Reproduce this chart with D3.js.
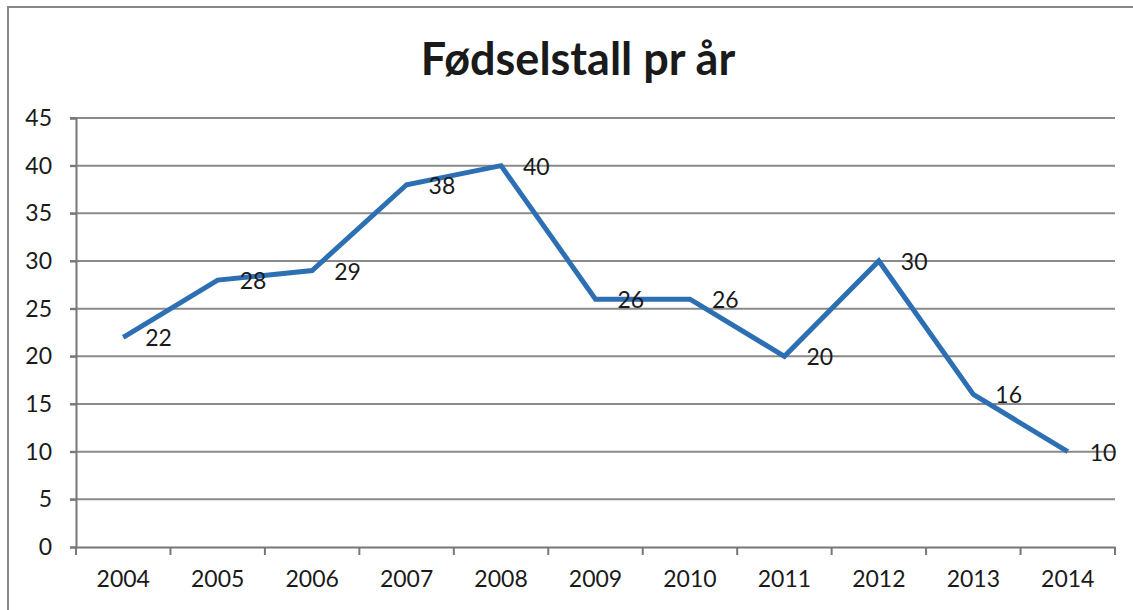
<!DOCTYPE html>
<html lang="no">
<head>
<meta charset="utf-8">
<title>Fødselstall pr år</title>
<script src="https://d3js.org/d3.v7.min.js"></script>
<style>
  body { margin: 0; background: #fff; }
  text { font-family: Lato, "Open Sans", sans-serif; fill: #1a1a1a; }
</style>
</head>
<body>
<div id="chart"></div>
<script>
// data
var years = ["2004", "2005", "2006", "2007", "2008", "2009", "2010", "2011", "2012", "2013", "2014"];
var births = [22, 28, 29, 38, 40, 26, 26, 20, 30, 16, 10];
var yTicks = [0, 5, 10, 15, 20, 25, 30, 35, 40, 45];

var W = 1133, H = 610;
var margin = {top: 118, right: 18, bottom: 63, left: 76};
var width = W - margin.left - margin.right,
    height = H - margin.top - margin.bottom;

var svg = d3.select("#chart").append("svg")
    .attr("width", W)
    .attr("height", H);

// chart frame (runs off the right and bottom edge like the scan)
svg.append("rect")
    .attr("x", 8).attr("y", 7)
    .attr("width", W + 20).attr("height", H + 20)
    .attr("fill", "none")
    .attr("stroke", "#888")
    .attr("stroke-width", 2);

// title
svg.append("text")
    .attr("x", 578)
    .attr("y", 75)
    .attr("text-anchor", "middle")
    .style("font-size", "45px")
    .style("font-weight", "bold")
    .text("Fødselstall pr år");

var g = svg.append("g")
    .attr("transform", "translate(" + margin.left + "," + margin.top + ")");

var x = d3.scaleBand()
    .domain(years)
    .range([0, width])
    .padding(0);

var y = d3.scaleLinear()
    .domain([0, 45])
    .range([height, 0]);

// gridlines
g.append("g")
  .selectAll("line")
  .data(yTicks.filter(function(d) { return d > 0; }))
  .enter().append("line")
    .attr("x1", -6)
    .attr("x2", width)
    .attr("y1", function(d) { return y(d); })
    .attr("y2", function(d) { return y(d); })
    .attr("stroke", "#8a8a8a")
    .attr("stroke-width", 2);

// y axis
var yAxis = g.append("g")
    .call(d3.axisLeft(y).tickValues(yTicks).tickSize(6).tickPadding(18));
yAxis.select(".domain").attr("stroke", "#777").attr("stroke-width", 2);
yAxis.selectAll(".tick line").attr("stroke", "#777").attr("stroke-width", 2);
yAxis.selectAll("text").style("font-size", "23px").attr("fill", "#1a1a1a");

// x axis, ticks between categories like Excel
var xAxis = g.append("g")
    .attr("transform", "translate(0," + height + ")")
    .call(d3.axisBottom(x).tickSize(0).tickPadding(24));
xAxis.select(".domain").attr("stroke", "#777").attr("stroke-width", 2);
xAxis.selectAll("text").style("font-size", "23px").attr("fill", "#1a1a1a");
xAxis.selectAll(".sep")
    .data(years.concat(["end"]))
    .enter().append("line")
    .attr("class", "sep")
    .attr("x1", function(d, i) { return i * x.bandwidth(); })
    .attr("x2", function(d, i) { return i * x.bandwidth(); })
    .attr("y1", 0)
    .attr("y2", 8)
    .attr("stroke", "#777")
    .attr("stroke-width", 2);

// line
var line = d3.line()
    .x(function(d, i) { return x(years[i]) + x.bandwidth() / 2; })
    .y(function(d) { return y(d); });

g.append("path")
    .datum(births)
    .attr("d", line)
    .attr("fill", "none")
    .attr("stroke", "#2d6fb3")
    .attr("stroke-width", 5)
    .attr("stroke-linejoin", "miter");

// value labels to the right of each point
g.selectAll(".lbl")
    .data(births)
    .enter().append("text")
    .attr("class", "lbl")
    .attr("x", function(d, i) { return x(years[i]) + x.bandwidth() / 2 + 22; })
    .attr("y", function(d) { return y(d) + 9; })
    .style("font-size", "23px")
    .text(function(d) { return d; });
</script>
</body>
</html>
